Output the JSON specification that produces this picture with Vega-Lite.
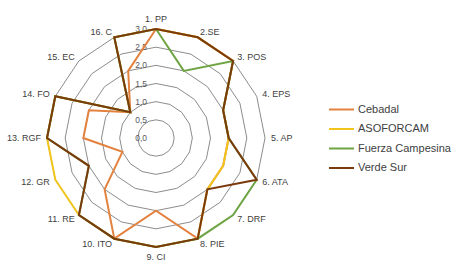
{
  "$schema": "https://vega.github.io/schema/vega-lite/v6.json",
  "autosize": {"type": "none"},
  "padding": {"left": 47, "top": 29, "right": 194, "bottom": 21},
  "width": 218,
  "height": 218,
  "config": {"view": {"stroke": null}, "font": "Liberation Sans"},
  "datasets": {
    "axes": [
      {"i": 0, "label": "1. PP"}, {"i": 1, "label": "2.SE"}, {"i": 2, "label": "3. POS"}, {"i": 3, "label": "4. EPS"},
      {"i": 4, "label": "5. AP"}, {"i": 5, "label": "6. ATA"}, {"i": 6, "label": "7. DRF"}, {"i": 7, "label": "8. PIE"},
      {"i": 8, "label": "9. CI"}, {"i": 9, "label": "10. ITO"}, {"i": 10, "label": "11. RE"}, {"i": 11, "label": "12. GR"},
      {"i": 12, "label": "13. RGF"}, {"i": 13, "label": "14. FO"}, {"i": 14, "label": "15. EC"}, {"i": 15, "label": "16. C"}
    ],
    "levels": [
      {"level": 0, "tick": "0,0", "idx": [0,1,2,3,4,5,6,7,8,9,10,11,12,13,14,15]},
      {"level": 0.5, "tick": "0,5", "idx": [0,1,2,3,4,5,6,7,8,9,10,11,12,13,14,15]},
      {"level": 1, "tick": "1,0", "idx": [0,1,2,3,4,5,6,7,8,9,10,11,12,13,14,15]},
      {"level": 1.5, "tick": "1,5", "idx": [0,1,2,3,4,5,6,7,8,9,10,11,12,13,14,15]},
      {"level": 2, "tick": "2,0", "idx": [0,1,2,3,4,5,6,7,8,9,10,11,12,13,14,15]},
      {"level": 2.5, "tick": "2,5", "idx": [0,1,2,3,4,5,6,7,8,9,10,11,12,13,14,15]},
      {"level": 3, "tick": "3,0", "idx": [0,1,2,3,4,5,6,7,8,9,10,11,12,13,14,15]}
    ],
    "scores": [
      {"series": "Cebadal", "i": 0, "v": 3}, {"series": "Cebadal", "i": 1, "v": 3}, {"series": "Cebadal", "i": 2, "v": 3}, {"series": "Cebadal", "i": 3, "v": 2},
      {"series": "Cebadal", "i": 4, "v": 2}, {"series": "Cebadal", "i": 5, "v": 2}, {"series": "Cebadal", "i": 6, "v": 2}, {"series": "Cebadal", "i": 7, "v": 3},
      {"series": "Cebadal", "i": 8, "v": 2}, {"series": "Cebadal", "i": 9, "v": 3}, {"series": "Cebadal", "i": 10, "v": 2}, {"series": "Cebadal", "i": 11, "v": 1},
      {"series": "Cebadal", "i": 12, "v": 2}, {"series": "Cebadal", "i": 13, "v": 2}, {"series": "Cebadal", "i": 14, "v": 1}, {"series": "Cebadal", "i": 15, "v": 2},
      {"series": "ASOFORCAM", "i": 0, "v": 3}, {"series": "ASOFORCAM", "i": 1, "v": 3}, {"series": "ASOFORCAM", "i": 2, "v": 3}, {"series": "ASOFORCAM", "i": 3, "v": 2},
      {"series": "ASOFORCAM", "i": 4, "v": 2}, {"series": "ASOFORCAM", "i": 5, "v": 2}, {"series": "ASOFORCAM", "i": 6, "v": 2}, {"series": "ASOFORCAM", "i": 7, "v": 3},
      {"series": "ASOFORCAM", "i": 8, "v": 3}, {"series": "ASOFORCAM", "i": 9, "v": 3}, {"series": "ASOFORCAM", "i": 10, "v": 3}, {"series": "ASOFORCAM", "i": 11, "v": 3},
      {"series": "ASOFORCAM", "i": 12, "v": 3}, {"series": "ASOFORCAM", "i": 13, "v": 3}, {"series": "ASOFORCAM", "i": 14, "v": 1}, {"series": "ASOFORCAM", "i": 15, "v": 3},
      {"series": "Fuerza Campesina", "i": 0, "v": 3}, {"series": "Fuerza Campesina", "i": 1, "v": 2}, {"series": "Fuerza Campesina", "i": 2, "v": 3}, {"series": "Fuerza Campesina", "i": 3, "v": 2},
      {"series": "Fuerza Campesina", "i": 4, "v": 2}, {"series": "Fuerza Campesina", "i": 5, "v": 3}, {"series": "Fuerza Campesina", "i": 6, "v": 3}, {"series": "Fuerza Campesina", "i": 7, "v": 3},
      {"series": "Fuerza Campesina", "i": 8, "v": 3}, {"series": "Fuerza Campesina", "i": 9, "v": 3}, {"series": "Fuerza Campesina", "i": 10, "v": 3}, {"series": "Fuerza Campesina", "i": 11, "v": 2},
      {"series": "Fuerza Campesina", "i": 12, "v": 3}, {"series": "Fuerza Campesina", "i": 13, "v": 3}, {"series": "Fuerza Campesina", "i": 14, "v": 1}, {"series": "Fuerza Campesina", "i": 15, "v": 3},
      {"series": "Verde Sur", "i": 0, "v": 3}, {"series": "Verde Sur", "i": 1, "v": 3}, {"series": "Verde Sur", "i": 2, "v": 3}, {"series": "Verde Sur", "i": 3, "v": 2},
      {"series": "Verde Sur", "i": 4, "v": 2}, {"series": "Verde Sur", "i": 5, "v": 3}, {"series": "Verde Sur", "i": 6, "v": 2}, {"series": "Verde Sur", "i": 7, "v": 3},
      {"series": "Verde Sur", "i": 8, "v": 3}, {"series": "Verde Sur", "i": 9, "v": 3}, {"series": "Verde Sur", "i": 10, "v": 3}, {"series": "Verde Sur", "i": 11, "v": 2},
      {"series": "Verde Sur", "i": 12, "v": 3}, {"series": "Verde Sur", "i": 13, "v": 3}, {"series": "Verde Sur", "i": 14, "v": 1}, {"series": "Verde Sur", "i": 15, "v": 3}
    ]
  },
  "layer": [
    {
      "data": {"name": "levels"},
      "transform": [
        {"filter": "datum.level > 0"},
        {"flatten": ["idx"]},
        {"calculate": "datum.level * sin(datum.idx * PI / 8)", "as": "x"},
        {"calculate": "datum.level * cos(datum.idx * PI / 8)", "as": "y"}
      ],
      "mark": {"type": "line", "interpolate": "linear-closed", "stroke": "#8c8c8c", "strokeWidth": 1},
      "encoding": {
        "x": {"field": "x", "type": "quantitative", "scale": {"domain": [-3, 3], "nice": false, "zero": false}, "axis": null},
        "y": {"field": "y", "type": "quantitative", "scale": {"domain": [-3, 3], "nice": false, "zero": false}, "axis": null},
        "detail": {"field": "level", "type": "nominal"},
        "order": {"field": "idx", "type": "quantitative"}
      }
    },
    {
      "data": {"name": "levels"},
      "transform": [{"calculate": "0", "as": "x"}],
      "mark": {"type": "text", "align": "right", "baseline": "middle", "dx": -9, "fontSize": 8.5, "color": "#595959"},
      "encoding": {
        "x": {"field": "x", "type": "quantitative"},
        "y": {"field": "level", "type": "quantitative"},
        "text": {"field": "tick"}
      }
    },
    {
      "data": {"name": "scores"},
      "transform": [
        {"calculate": "datum.v * sin(datum.i * PI / 8)", "as": "x"},
        {"calculate": "datum.v * cos(datum.i * PI / 8)", "as": "y"}
      ],
      "mark": {"type": "line", "interpolate": "linear-closed", "strokeWidth": 2},
      "encoding": {
        "x": {"field": "x", "type": "quantitative"},
        "y": {"field": "y", "type": "quantitative"},
        "order": {"field": "i", "type": "quantitative"},
        "color": {
          "field": "series", "type": "nominal",
          "scale": {"domain": ["Cebadal", "ASOFORCAM", "Fuerza Campesina", "Verde Sur"], "range": ["#E3823F", "#F2C41E", "#6FA443", "#7A3A0C"]},
          "legend": {"title": null, "orient": "none", "legendX": 281, "legendY": 67, "padding": 0, "symbolType": "stroke", "symbolSize": 625, "symbolStrokeWidth": 2, "labelFontSize": 11, "labelColor": "#404040", "labelOffset": 3, "rowPadding": 0.5}
        }
      }
    },
    {
      "data": {"name": "axes"},
      "transform": [
        {"filter": "datum.i >= 1 && datum.i <= 7"},
        {"calculate": "3.165 * sin(datum.i * PI / 8)", "as": "x"},
        {"calculate": "3.165 * cos(datum.i * PI / 8)", "as": "y"}
      ],
      "mark": {"type": "text", "align": "left", "baseline": "middle", "fontSize": 9, "color": "#404040"},
      "encoding": {"x": {"field": "x", "type": "quantitative"}, "y": {"field": "y", "type": "quantitative"}, "text": {"field": "label"}}
    },
    {
      "data": {"name": "axes"},
      "transform": [
        {"filter": "datum.i >= 9"},
        {"calculate": "3.165 * sin(datum.i * PI / 8)", "as": "x"},
        {"calculate": "3.165 * cos(datum.i * PI / 8)", "as": "y"}
      ],
      "mark": {"type": "text", "align": "right", "baseline": "middle", "fontSize": 9, "color": "#404040"},
      "encoding": {"x": {"field": "x", "type": "quantitative"}, "y": {"field": "y", "type": "quantitative"}, "text": {"field": "label"}}
    },
    {
      "data": {"name": "axes"},
      "transform": [
        {"filter": "datum.i == 0 || datum.i == 8"},
        {"calculate": "3.28 * sin(datum.i * PI / 8)", "as": "x"},
        {"calculate": "3.28 * cos(datum.i * PI / 8)", "as": "y"}
      ],
      "mark": {"type": "text", "align": "center", "baseline": "middle", "fontSize": 9, "color": "#404040"},
      "encoding": {"x": {"field": "x", "type": "quantitative"}, "y": {"field": "y", "type": "quantitative"}, "text": {"field": "label"}}
    }
  ]
}
